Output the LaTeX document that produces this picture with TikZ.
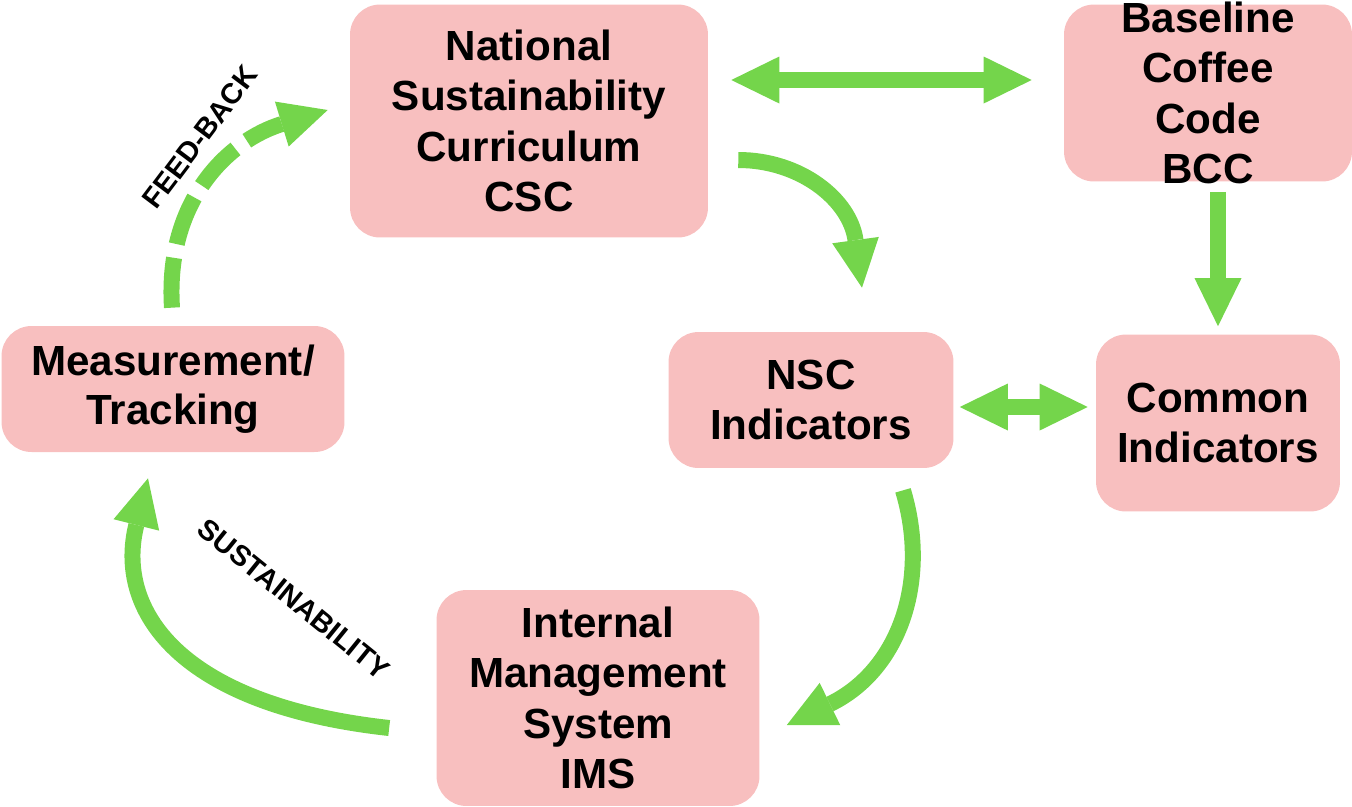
\documentclass[tikz,border=0pt]{standalone}
\usepackage{fontspec}
\setmainfont{Liberation Sans}
\usepackage{tikz}
\usetikzlibrary{arrows.meta}

\definecolor{boxpink}{HTML}{F8BFBF}
\definecolor{flowgreen}{HTML}{74D54B}

\begin{document}
\begin{tikzpicture}[
                x=0.02cm, y=-0.02cm, % one unit is one pixel of the sketch
                >={Triangle[length=0.96cm, width=0.94cm, line width=0pt]},
                box/.style={rectangle, rounded corners=0.6cm, fill=boxpink, inner sep=0pt, align=center, font=\bfseries\fontsize{24}{28.8}\selectfont}, % pink blocks
                flow/.style={draw=flowgreen, line width=0.32cm, ->}, % green arrows
                both/.style={flow, <->},
                tag/.style={font=\bfseries\fontsize{16.4}{19}\selectfont} % arrow captions
                ]
                \useasboundingbox (0,0) rectangle (1352,806);

                \node[box, minimum width=7.16cm, minimum height=4.66cm] (csc) at (529,121) {National\\Sustainability\\Curriculum\\CSC};
                \node[box, minimum width=5.76cm, minimum height=3.54cm] (bcc) at (1208,93) {};
                \node[align=center, inner sep=0pt, font=\bfseries\fontsize{24}{28.8}\selectfont] (bcctext) at (bcc.center) {Baseline\\Coffee\\Code\\BCC};
                \node[box, minimum width=6.86cm, minimum height=2.52cm, font=\bfseries\fontsize{24}{27.6}\selectfont] (track) at (173,389) {Measurement/\\Tracking};
                \node[box, minimum width=5.7cm, minimum height=2.72cm] (nsc) at (811,400) {NSC\\Indicators};
                \node[box, minimum width=4.88cm, minimum height=3.54cm] (common) at (1218,423) {Common\\Indicators};
                \node[box, minimum width=6.46cm, minimum height=4.32cm] (ims) at (598,698) {Internal\\Management\\System\\IMS};

                \draw[both] ([shift={(23,-41)}]csc.east) -- ([shift={(-32,-13)}]bcc.west);
                \draw[flow] ([shift={(30,39)}]csc.east) .. controls +(62,0) and +(-12,-88) .. ([shift={(51,-44)}]nsc.north);
                \draw[flow] ([shift={(10,10)}]bcc.south) -- ([shift={(0,-8)}]common.north);
                \draw[both] ([shift={(6,7)}]nsc.east) -- ([shift={(-8,-16)}]common.west);
                \draw[flow] ([shift={(92,22)}]nsc.south) .. controls +(27,90) and +(113,-55) .. ([shift={(27,27)}]ims.east);
                \draw[flow] ([shift={(-47,30)}]ims.west) .. controls +(-210,-23) and +(-33,132) .. ([shift={(-25,26)}]track.south);
                \draw[flow, dash pattern=on 1cm off 0.28cm] ([shift={(-1,-18)}]track.north) .. controls +(-7,-108) and +(-98,30) .. ([shift={(-22,-11)}]csc.west);

                \node[tag, rotate=53] (feedback) at (200,137) {FEED-BACK};
                \node[tag, rotate=-39] (sustain) at (294,599) {SUSTAINABILITY};
            \end{tikzpicture}
\end{document}
